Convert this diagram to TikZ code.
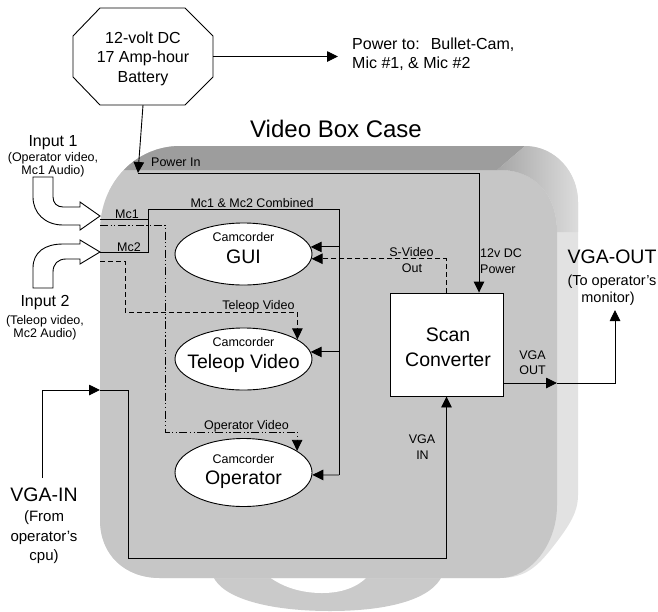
\documentclass[tikz,border=0pt]{standalone}
\usepackage{fontspec}
\setmainfont{Liberation Sans}
\usetikzlibrary{arrows.meta,shapes.geometric}
\definecolor{frontc}{RGB}{198,198,198}
\definecolor{topc}{RGB}{157,157,157}
\definecolor{sidec}{RGB}{226,226,226}
\definecolor{basec}{RGB}{202,202,202}
\definecolor{cornL}{RGB}{166,166,166}
\definecolor{cornR}{RGB}{220,220,220}
\begin{document}
\begin{tikzpicture}[x=1pt,y=-1pt,
  every node/.style={inner sep=0pt},
  tx/.style={anchor=base},
  txw/.style={anchor=base west},
  sA/.style={font=\fontsize{12.5}{14}\selectfont},
  sB/.style={font=\fontsize{16}{19}\selectfont},
  sC/.style={font=\fontsize{19.5}{22}\selectfont},
  sD/.style={font=\fontsize{24}{28}\selectfont},
  wire/.style={line width=0.9pt},
  arr/.style={wire,-{Triangle[length=11pt,width=10.5pt]}},
  dsh/.style={dash pattern=on 5pt off 3pt},
  ddot/.style={dash pattern=on 8pt off 2.5pt on 1.2pt off 2.5pt on 1.2pt off 2.5pt},
  ell/.style={ellipse,draw,fill=white,wire,minimum width=137pt,minimum height=62pt},
]
\useasboundingbox (0,0) rectangle (658,611);

% ---------- case ----------
\fill[basec] (213,576) .. controls (222,598) and (268,611) .. (330,611) .. controls (392,611) and (432,598) .. (442,576) -- cycle;
\fill[white] (268,576) .. controls (285,589) and (305,593) .. (322,593) .. controls (342,593) and (358,587) .. (368,576) -- cycle;
\fill[sidec] (180,146) -- (525,146) .. controls (555,146) and (578,172) .. (578,202) -- (578,495) .. controls (578,512) and (570,525) .. (552,548) .. controls (537,567) and (525,578) .. (500,578) -- (160,578) .. controls (125,578) and (100,555) .. (100,520) -- (100,232) .. controls (100,180) and (138,146) .. (180,146) -- cycle;
\fill[frontc] (180,146) -- (500,146) -- (500,170) .. controls (535,170) and (557,195) .. (557,232) -- (557,505) .. controls (557,545) and (530,578) .. (500,578) -- (160,578) .. controls (125,578) and (100,555) .. (100,520) -- (100,232) .. controls (100,180) and (138,146) .. (180,146) -- cycle;
\begin{scope}
\clip (100,232) .. controls (100,180) and (138,146) .. (180,146) -- (600,146) -- (600,600) -- (100,600) -- cycle;
\fill[topc] (90,146) -- (525,146) -- (497,170) -- (90,170) -- cycle;
\end{scope}
\shade[left color=cornL,right color=cornR] (497,170) -- (525,146) .. controls (555,146) and (578,172) .. (578,202) -- (578,232) -- (557,232) .. controls (557,195) and (535,170) .. (500,170) -- cycle;

% ---------- titles ----------
\node[tx,sD] (title) at (336,137) {Video Box Case};

% ---------- battery ----------
\draw[wire,fill=white] (100,8) -- (185,8) -- (213,36) -- (213,77) -- (185,105) -- (100,105) -- (73,77) -- (73,36) -- cycle;
\node[minimum width=140pt,minimum height=97pt] (bat) at (143,56.5) {};
\node[tx,sB] (bat1) at (143,43) {12-volt DC};
\node[tx,sB] (bat2) at (143,62.5) {17 Amp-hour};
\node[tx,sB] (bat3) at (143,82) {Battery};

\node[txw,sB] (pw1) at (352,49) {Power to:\hspace{11pt}Bullet-Cam,};
\node[txw,sB] (pw2) at (352,68) {Mic \#1, \& Mic \#2};
\coordinate (pwtip) at (338,56.5);
\draw[arr] (bat.east) -- (pwtip);

% ---------- inputs ----------
\node[tx,sB] (in1a) at (53,146.5) {Input 1};
\node[tx,sA] (in1b) at (53,161.5) {(Operator video,};
\node[tx,sA] (in1c) at (53,174) {Mc1 Audio)};
\draw[wire,fill=white] (33,177) -- (53,177) -- (53,197) .. controls (53,203) and (57,207) .. (63,207) -- (80,207) -- (80,202) -- (100,216) -- (80,230) -- (80,225) -- (63,225) .. controls (45,225) and (33,213) .. (33,197) -- cycle;

\node[tx,sB] (in2a) at (45,306) {Input 2};
\node[tx,sA] (in2b) at (45,324) {(Teleop video,};
\node[tx,sA] (in2c) at (45,337) {Mc2 Audio)};
\draw[wire,fill=white] (33,288) -- (33,268) .. controls (33,252) and (45,244) .. (63,244) -- (80,244) -- (80,240) -- (100,252) -- (80,264) -- (80,259) -- (66,259) .. controls (58,259) and (53,264) .. (53,272) -- (53,288) -- cycle;

% ---------- camcorders ----------
\node[ell] (gui) at (243.5,254) {};
\node[tx,sA] (gui1) at (243.5,241) {Camcorder};
\node[tx,sC] (gui2) at (243.5,263.3) {GUI};
\node[ell] (tel) at (243.5,359) {};
\node[tx,sA] (tel1) at (243.5,346.7) {Camcorder};
\node[tx,sC] (tel2) at (243.5,368.3) {Teleop Video};
\node[ell,minimum height=68pt] (op) at (243.5,472.5) {};
\node[tx,sA] (op1) at (243.5,463.3) {Camcorder};
\node[tx,sC] (op2) at (243.5,484) {Operator};

% ---------- scan converter ----------
\node[draw,wire,fill=white,minimum width=113pt,minimum height=103pt] (scan) at (446.5,344.5) {};
\node[tx,sC] (scan1) at (448,341.7) {Scan};
\node[tx,sC] (scan2) at (448,366.7) {Converter};

% ---------- power in ----------
\coordinate (pin) at (138,173);
\coordinate (pcorner) at (479,173);
\draw[arr] (bat.south) -- (pin);
\draw[arr] (pin) -- (pcorner) -- (pcorner |- scan.north);
\node[txw,sA] (pinl) at (151,166) {Power In};
\node[txw,sA] (p12a) at (480,257) {12v DC};
\node[txw,sA] (p12b) at (480,273) {Power};

% ---------- audio ----------
\coordinate (mc1in) at (100,219);
\coordinate (mc2in) at (100,252);
\coordinate (cmbL) at (148,209);
\coordinate (cmbR) at (339,209);
\coordinate (cmbB) at (339,475);
\draw[wire] (mc1in) -- (mc1in -| cmbL);
\draw[wire] (mc2in) -- (mc2in -| cmbL) -- (cmbL) -- (cmbR) -- (cmbB);
\draw[arr] (cmbR |- gui.6) -- (gui.6);
\draw[arr] (cmbR |- tel.6) -- (tel.6);
\draw[arr] (cmbB) -- (op.-2);
\node[txw,sA] (mc1l) at (115,218) {Mc1};
\node[txw,sA] (mc2l) at (117,251.5) {Mc2};
\node[tx,sA] (cmbl) at (252,207) {Mc1 \& Mc2 Combined};

% ---------- video ----------
\coordinate (v1in) at (100,225);
\coordinate (v1a) at (165,225);
\coordinate (v1b) at (165,432);
\draw[arr,ddot] (v1in) -- (v1a) -- (v1b) -- (v1b -| op.22) -- (op.22);
\node[tx,sA] (opvl) at (246.5,429) {Operator Video};

\coordinate (v2in) at (100,261);
\coordinate (v2a) at (125,261);
\coordinate (v2b) at (125,312);
\draw[arr,dsh] (v2in) -- (v2a) -- (v2b) -- (v2b -| tel.20) -- (tel.20);
\node[tx,sA] (tvl) at (258.5,309) {Teleop Video};

\draw[arr,dsh] (scan.north) -- (scan.north |- gui.-4) -- (gui.-4);
\node[tx,sA] (sv1) at (411.5,256.7) {S-Video};
\node[tx,sA] (sv2) at (412,272.7) {Out};

% ---------- VGA out ----------
\coordinate (vom) at (557,383);
\coordinate (vor) at (615,383);
\coordinate (vot) at (615,310);
\draw[arr] (vom -| scan.east) -- (vom);
\draw[arr] (vom) -- (vor) -- (vot);
\node[tx,sA] (vol1) at (532.5,359.3) {VGA};
\node[tx,sA] (vol2) at (532.5,374) {OUT};
\node[tx,sC] (vo1) at (612,263) {VGA-OUT};
\node[tx,font=\fontsize{14.5}{16}\selectfont] (vo2) at (612,285) {(To operator's};
\node[tx,font=\fontsize{14.5}{16}\selectfont] (vo3) at (608,302) {monitor)};

% ---------- VGA in ----------
\coordinate (vib) at (42,478);
\coordinate (vic) at (42,390);
\coordinate (via) at (100,390);
\coordinate (vid) at (128,558);
\draw[arr] (vib) -- (vic) -- (via);
\draw[arr] (via) -- (via -| vid) -- (vid) -- (vid -| scan.south) -- (scan.south);
\node[tx,sA] (vil1) at (422,443.3) {VGA};
\node[tx,sA] (vil2) at (422.5,459) {IN};
\node[tx,sC] (vi1) at (44,501.7) {VGA-IN};
\node[tx,font=\fontsize{15}{17}\selectfont] (vi2) at (44,521.7) {(From};
\node[tx,font=\fontsize{15}{17}\selectfont] (vi3) at (44,541.7) {operator's};
\node[tx,font=\fontsize{15}{17}\selectfont] (vi4) at (44,560) {cpu)};
\end{tikzpicture}
\end{document}
